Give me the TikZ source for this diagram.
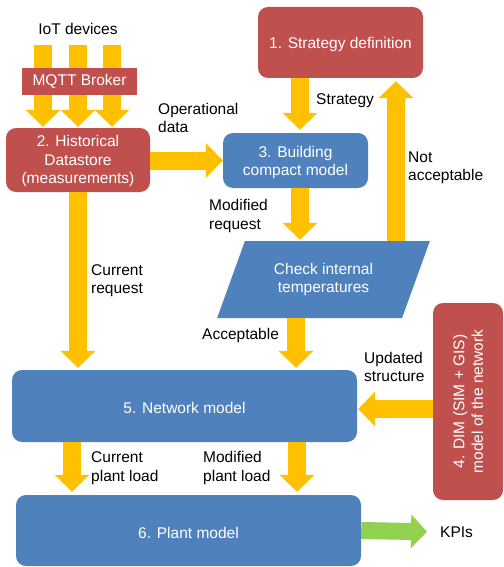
\documentclass[tikz,border=0pt]{standalone}
\usepackage{fontspec}
\setmainfont{Liberation Sans}
\usetikzlibrary{arrows.meta,shapes.geometric,calc}
\definecolor{boxred}{HTML}{C0504D}
\definecolor{boxblue}{HTML}{4F81BD}
\definecolor{flowyellow}{HTML}{FFC000}
\definecolor{kpigreen}{HTML}{92D050}
\begin{document}
\begin{tikzpicture}[x=1pt,y=-1pt,
  every node/.style={font=\fontsize{15.5}{18.5}\selectfont},
  boxtext/.style={text=white, align=center, inner sep=0pt, yshift=-2pt},
  redbox/.style={fill=boxred, rounded corners=10pt, inner sep=0pt},
  bluebox/.style={fill=boxblue, rounded corners=10pt, inner sep=0pt},
  lbl/.style={anchor=west, align=left, inner sep=0pt},
  flow/.style={draw=flowyellow, line width=18pt, -{Triangle[width=34pt,length=17pt]}, shorten >=2pt},
  kpiflow/.style={draw=kpigreen, line width=17pt, -{Triangle[width=33pt,length=16pt]}},
]
\useasboundingbox (0,0) rectangle (503,567);

% boxes
\node[redbox, minimum width=144pt, minimum height=64pt,
      label={[boxtext, yshift=1pt]center:2. Historical\\Datastore\\(measurements)}] (hist) at (78,160) {};
\node[redbox, minimum width=165pt, minimum height=71pt,
      label={[boxtext]center:1. Strategy definition}] (strat) at (340.5,42.5) {};
\node[bluebox, minimum width=145pt, minimum height=55pt,
      label={[boxtext]center:3. Building\\compact model}] (build) at (295.5,160.5) {};
\node[shape=trapezium, trapezium left angle=62, trapezium right angle=118, trapezium stretches=true,
      minimum width=213pt, minimum height=77pt, fill=boxblue, text=white, align=center, inner sep=0pt]
      (check) at (323.5,279.5) {Check internal\\temperatures};
\node[bluebox, minimum width=345pt, minimum height=72pt,
      label={[boxtext]center:5. Network model}] (net) at (184.5,406) {};
\node[redbox, minimum width=70pt, minimum height=197pt] (dim) at (468,401.5) {};
\node[rotate=90, text=white, align=center, inner sep=0pt] (dimtext) at (dim.center) {4. DIM (SIM + GIS)\\model of the network};
\node[bluebox, minimum width=345pt, minimum height=71pt,
      label={[boxtext]center:6. Plant model}] (plant) at (188.5,530.5) {};

% IoT inputs
\node[inner sep=0pt] (iot) at (78,28.5) {IoT devices};
\coordinate (iotA) at (43,45);
\coordinate (iotB) at (78,45);
\coordinate (iotC) at (112,45);
\draw[flow, shorten >=1pt] (iotA) -- (iotA |- hist.north);
\draw[flow, shorten >=1pt] (iotB) -- (iotB |- hist.north);
\draw[flow, shorten >=1pt] (iotC) -- (iotC |- hist.north);
\node[fill=boxred, text=white, minimum width=115pt, minimum height=27pt, inner sep=0pt] (mqtt) at (79.5,81.5) {\raisebox{-1.5pt}{MQTT Broker}};

% column coordinates
\coordinate (sx) at (300,0);
\coordinate (nx) at (396,0);
\coordinate (ax) at (296,0);
\coordinate (cx) at (72,0);
\coordinate (mx) at (297,0);
\coordinate (uy) at (0,409);

% flows
\draw[flow, shorten >=0pt] (hist.east |- build.west) -- (build.west);
\draw[flow, shorten >=3pt] (strat.south -| sx) -- (build.north -| sx);
\draw[flow, shorten >=1pt] (build.south -| sx) -- (check.north -| sx);
\draw[flow, shorten >=3pt] (check.north -| nx) -- (strat.south -| nx);
\draw[flow] (check.south -| ax) -- (net.north -| ax);
\draw[flow] (hist.south) -- (net.north -| hist.south);
\draw[flow, shorten >=1pt] (uy -| dim.west) -- (uy -| net.east);
\draw[flow, shorten >=3pt] (net.south -| cx) -- (plant.north -| cx);
\draw[flow, shorten >=3pt] (net.south -| mx) -- (plant.north -| mx);

% KPIs
\node[inner sep=0pt, anchor=west] (kpi) at (440,532) {KPIs};
\draw[kpiflow, shorten >=13pt] (plant.east) -- (kpi.west);

% labels
\node[lbl] (lop) at (158,118) {Operational\\data};
\node[lbl] (lstrat) at (316,101) {Strategy};
\node[lbl] (lnot) at (408,168) {Not\\acceptable};
\node[lbl] (lmod) at (209,216) {Modified\\request};
\node[lbl] (lcur) at (91,280.5) {Current\\request};
\node[lbl] (lacc) at (202,335) {Acceptable};
\node[lbl] (lupd) at (364,367) {Updated\\structure};
\node[lbl] (lcpl) at (91,468) {Current\\plant load};
\node[lbl] (lmpl) at (203,468) {Modified\\plant load};
\end{tikzpicture}
\end{document}
